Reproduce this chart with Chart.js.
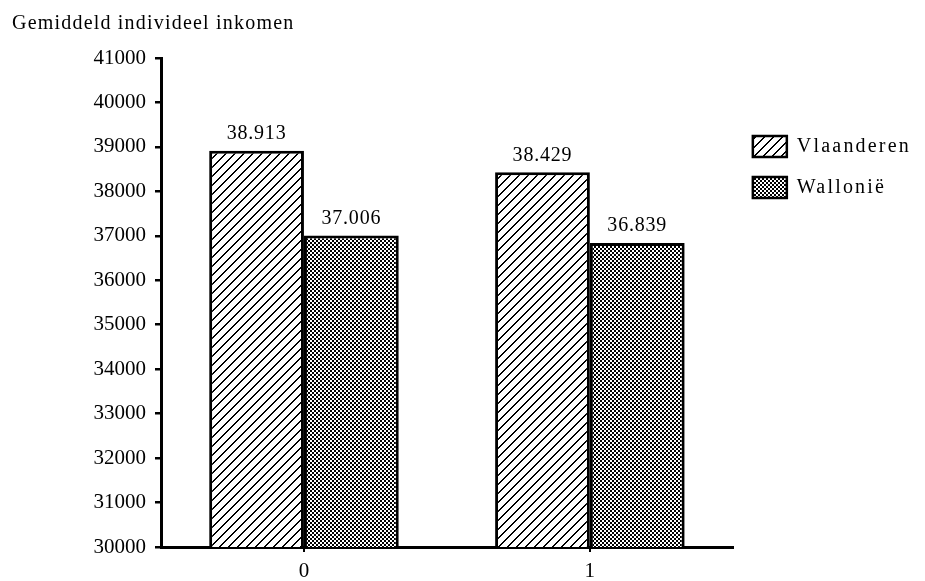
<!DOCTYPE html>
<html>
<head>
<meta charset="utf-8">
<script src="https://cdn.jsdelivr.net/npm/chart.js@4/dist/chart.umd.min.js"></script>
<style>
  html, body { margin: 0; padding: 0; background: #fff; }
  #wrap { width: 925px; height: 581px; }
</style>
</head>
<body>
<div id="wrap"><canvas id="c" width="925" height="581"></canvas></div>
<script>
const chartTitle = 'Gemiddeld individeel inkomen';
const categories = ['0', '1'];
const seriesNames = ['Vlaanderen', 'Wallonië'];
const vlaanderen = [38913, 38429];
const wallonie = [37006, 36839];
const yMin = 30000;
const yMax = 41000;
const yStep = 1000;

const SERIF = "'Liberation Serif', 'Times New Roman', serif";

function makePattern(size, fn) {
  const c = document.createElement('canvas');
  c.width = size; c.height = size;
  const g = c.getContext('2d');
  g.fillStyle = '#fff';
  g.fillRect(0, 0, size, size);
  g.fillStyle = '#000';
  for (let y = 0; y < size; y++) {
    for (let x = 0; x < size; x++) {
      if (fn(x, y)) g.fillRect(x, y, 1, 1);
    }
  }
  return document.getElementById('c').getContext('2d').createPattern(c, 'repeat');
}
const hatch = makePattern(9, (x, y) => ((x + y) % 9) < 2);
const checker = makePattern(4, (x, y) => ((Math.floor(x / 2) + Math.floor(y / 2)) % 2) === 0);

function fmt(v) {
  const s = String(Math.round(v));
  return s.replace(/\B(?=(\d{3})+(?!\d))/g, '.');
}

const spacingPlugin = {
  id: 'spacing',
  beforeDraw(chart) {
    const t = chart.titleBlock;
    if (t && !t.__patched) {
      const orig = t.draw.bind(t);
      t.draw = function (a) {
        const ctx = chart.ctx;
        ctx.save();
        try { ctx.letterSpacing = '1.2px'; } catch (e) {}
        orig(a);
        ctx.restore();
      };
      t.__patched = true;
    }
    const l = chart.legend;
    if (l && !l.__patched) {
      l.draw = function () {
        const ctx = chart.ctx;
        ctx.save();
        try { ctx.letterSpacing = '2.2px'; } catch (e) {}
        l._draw();
        ctx.restore();
      };
      l.__patched = true;
    }
  }
};

const valueLabels = {
  id: 'valueLabels',
  afterDatasetsDraw(chart) {
    const ctx = chart.ctx;
    ctx.save();
    ctx.font = '20px ' + SERIF;
    try { ctx.letterSpacing = '0.8px'; } catch (e) {}
    ctx.fillStyle = '#000';
    ctx.textAlign = 'center';
    ctx.textBaseline = 'middle';
    chart.data.datasets.forEach((ds, i) => {
      const meta = chart.getDatasetMeta(i);
      meta.data.forEach((el, j) => {
        ctx.fillText(fmt(ds.data[j]), el.x, el.y - 17);
      });
    });
    ctx.restore();
  }
};

new Chart(document.getElementById('c'), {
  type: 'bar',
  data: {
    labels: categories,
    datasets: [
      { label: seriesNames[0], data: vlaanderen, backgroundColor: hatch, borderColor: '#000', borderWidth: 3, borderSkipped: false },
      { label: seriesNames[1], data: wallonie, backgroundColor: checker, borderColor: '#000', borderWidth: 3, borderSkipped: false }
    ]
  },
  options: {
    responsive: false,
    animation: false,
    events: [],
    layout: { padding: { left: 12, right: 26, top: 0, bottom: 0 } },
    datasets: { bar: { categoryPercentage: 0.663, barPercentage: 1 } },
    plugins: {
      title: {
        display: true, text: chartTitle, align: 'start', color: '#000',
        font: { family: SERIF, size: 20, weight: 'normal', lineHeight: 1.2 },
        padding: { top: 12, bottom: 22 }
      },
      legend: {
        display: true, position: 'right', align: 'start',
        title: { display: true, text: ' ', font: { size: 10, lineHeight: 1.2 }, padding: { top: 0, bottom: 104 } },
        labels: {
          color: '#000', boxWidth: 34, boxHeight: 21, padding: 20,
          font: { family: SERIF, size: 20 },
          generateLabels(chart) {
            const items = Chart.defaults.plugins.legend.labels.generateLabels(chart);
            items.forEach(it => { it.lineWidth = 2.5; });
            return items;
          }
        }
      },
      tooltip: { enabled: false }
    },
    scales: {
      x: {
        offset: true,
        grid: { display: true, drawOnChartArea: false, drawTicks: true, offset: false, tickLength: 5, color: '#000', lineWidth: 2 },
        border: { display: true, color: '#000', width: 3 },
        ticks: { color: '#000', padding: 9, font: { family: SERIF, size: 21, lineHeight: 1 } },
        afterFit(scale) { scale.height = 34; }
      },
      y: {
        min: yMin, max: yMax,
        grid: { display: true, drawOnChartArea: false, drawTicks: true, tickLength: 6, color: '#000', lineWidth: 2.5 },
        border: { display: true, color: '#000', width: 3 },
        ticks: {
          stepSize: yStep, color: '#000', padding: 9,
          font: { family: SERIF, size: 21 },
          callback: (v) => String(v)
        },
        afterFit(scale) { scale.width = 149; }
      }
    }
  },
  plugins: [spacingPlugin, valueLabels]
});
</script>
</body>
</html>
